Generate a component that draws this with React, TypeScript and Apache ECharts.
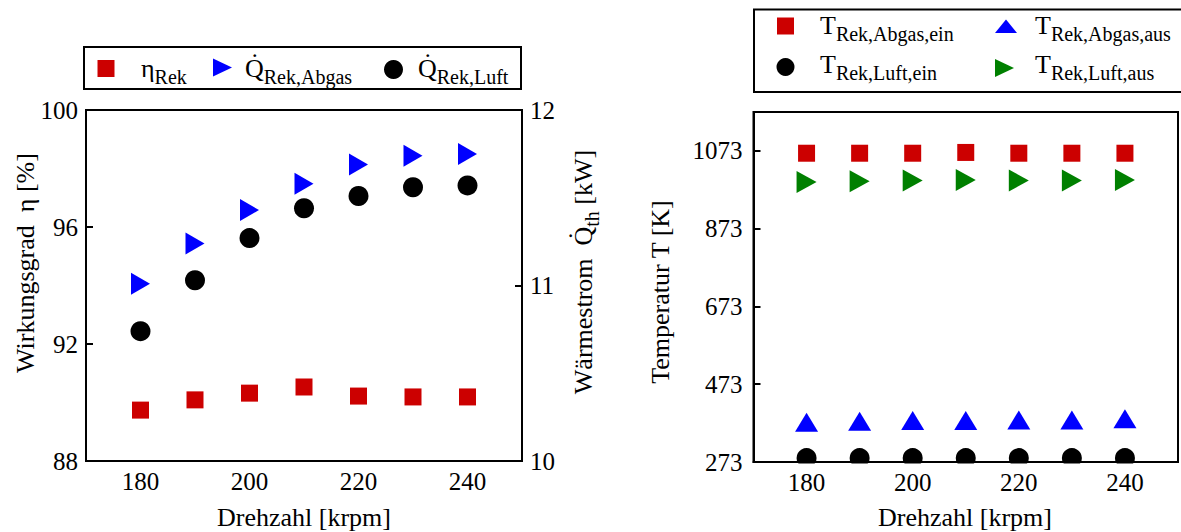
import React, { useEffect, useRef } from 'react';
import * as echarts from 'echarts';

// ---- data ----
const speeds = [180, 190, 200, 210, 220, 230, 240];
const etaRek = [89.74, 90.09, 90.32, 90.53, 90.22, 90.19, 90.19];
const qRekAbgas = [11.01, 11.24, 11.43, 11.58, 11.69, 11.74, 11.75];
const qRekLuft = [10.74, 11.03, 11.27, 11.44, 11.51, 11.56, 11.57];
const tAbgasEin = [1067, 1067, 1067, 1069, 1067, 1067, 1067];
const tAbgasAus = [375, 378, 380, 380, 381, 381, 384];
const tLuftEin = [283, 283, 283, 283, 283, 283, 283];
const tLuftAus = [993, 995, 997, 998, 997, 997, 998];
const xTickLabels = [180, 200, 220, 240];
const tempTickLabels = [273, 473, 673, 873, 1073];

const FONT = "'Times New Roman', 'Liberation Serif', serif";
const RED = '#CC0000';
const BLUE = '#0000FF';
const GREEN = '#008000';
const BLACK = '#000000';
const RIGHT_TRI = 'path://M0,0L1,0.5L0,1Z';

const pts = (ys: number[]) => speeds.map((s, i) => [s, ys[i]]);

const richStyles = {
  m: { fontSize: 26, fontFamily: FONT, lineHeight: 30, color: '#000' },
  s: { fontSize: 20, fontFamily: FONT, lineHeight: 20, padding: [17, 0, 0, 0], color: '#000' },
};

const richText = (x: number, y: number, text: string, extra: any = {}) => ({
  type: 'text',
  x,
  y,
  ...extra,
  style: {
    text,
    align: extra.align || 'left',
    verticalAlign: 'middle',
    textAlign: extra.align || 'left',
    textVerticalAlign: 'middle',
    rich: richStyles,
  },
});

const plainText = (x: number, y: number, text: string, rotation = 0) => ({
  type: 'text',
  x,
  y,
  rotation,
  style: {
    text,
    font: `26px ${FONT}`,
    fill: '#000',
    align: 'center',
    verticalAlign: 'middle',
    textAlign: 'center',
    textVerticalAlign: 'middle',
  },
});

const axisLine = { show: true, lineStyle: { color: '#000', width: 2 } };
const tickLabel = { color: '#000', fontSize: 25, fontFamily: FONT };
const inTick = { show: true, inside: true, length: 7, lineStyle: { color: '#000', width: 2 } };

export default function App() {
  const ref = useRef<HTMLDivElement>(null);
  useEffect(() => {
    if (!ref.current) return;
    const chart = echarts.init(ref.current, undefined, { renderer: 'svg' });
    const sc = (name: string, xi: number, yi: number, ys: number[], symbol: string, size: any, color: string) => ({
      name, type: 'scatter', xAxisIndex: xi, yAxisIndex: yi, data: pts(ys), symbol, symbolSize: size,
      itemStyle: { color, opacity: 1 }, emphasis: { disabled: true },
    });
    const option: any = {
      animation: false,
      backgroundColor: '#fff',
      grid: [
        { left: 86, top: 110, width: 436, height: 351, show: true, borderColor: '#000', borderWidth: 2, backgroundColor: 'transparent' },
        { left: 753.5, top: 112, width: 436, height: 350, show: true, borderColor: '#000', borderWidth: 2, backgroundColor: 'transparent' },
      ],
      xAxis: [
        {
          gridIndex: 0, type: 'value', min: 170, max: 250, interval: 10,
          axisLine, axisTick: { show: false }, splitLine: { show: false },
          axisLabel: { ...tickLabel, margin: 8, formatter: (v: number) => (xTickLabels.includes(v) ? String(v) : '') },
        },
        {
          gridIndex: 1, type: 'value', min: 170, max: 250, interval: 10, z: 10,
          axisLine, axisTick: { show: false }, splitLine: { show: false },
          axisLabel: { ...tickLabel, margin: 8, formatter: (v: number) => (xTickLabels.includes(v) ? String(v) : '') },
        },
      ],
      yAxis: [
        {
          gridIndex: 0, type: 'value', min: 88, max: 100, interval: 4,
          axisLine, axisTick: inTick, splitLine: { show: false }, axisLabel: { ...tickLabel, margin: 8 },
        },
        {
          gridIndex: 0, type: 'value', position: 'right', min: 10, max: 12, interval: 1,
          axisLine, axisTick: inTick, splitLine: { show: false }, axisLabel: { ...tickLabel, margin: 8 },
        },
        {
          gridIndex: 1, type: 'value', min: 273, max: 1173, interval: 200,
          axisLine, axisTick: inTick, splitLine: { show: false },
          axisLabel: { ...tickLabel, margin: 11, formatter: (v: number) => (tempTickLabels.includes(v) ? String(v) : '') },
        },
      ],
      series: [
        sc('eta', 0, 0, etaRek, 'rect', 17, RED),
        sc('qAbgas', 0, 1, qRekAbgas, RIGHT_TRI, [19, 22], BLUE),
        sc('qLuft', 0, 1, qRekLuft, 'circle', 20, BLACK),
        sc('tAbgasEin', 1, 2, tAbgasEin, 'rect', 17, RED),
        sc('tAbgasAus', 1, 2, tAbgasAus, 'triangle', [23, 19], BLUE),
        sc('tLuftEin', 1, 2, tLuftEin, 'circle', 20, BLACK),
        sc('tLuftAus', 1, 2, tLuftAus, RIGHT_TRI, [20, 22], GREEN),
      ],
      graphic: [
        // clip marks below the right chart's x axis
        { type: 'rect', z: 5, shape: { x: 754, y: 463.5, width: 430, height: 8 }, style: { fill: '#fff' } },
        // left legend
        { type: 'rect', shape: { x: 84, y: 47, width: 437, height: 42 }, style: { fill: 'none', stroke: '#000', lineWidth: 2 } },
        { type: 'rect', shape: { x: 97.5, y: 60, width: 17, height: 17 }, style: { fill: RED } },
        richText(141, 68, '{m|η}{s|Rek}'),
        { type: 'polygon', shape: { points: [[213, 58.5], [232, 67.5], [213, 76.5]] }, style: { fill: BLUE } },
        richText(245, 68, '{m|Q\u0307}{s|Rek,Abgas}'),
        { type: 'circle', shape: { cx: 393.5, cy: 69.5, r: 9.5 }, style: { fill: BLACK } },
        richText(418, 68, '{m|Q\u0307}{s|Rek,Luft}'),
        // right legend
        { type: 'rect', shape: { x: 754, y: 9.5, width: 440, height: 82.5 }, style: { fill: 'none', stroke: '#000', lineWidth: 2 } },
        { type: 'rect', shape: { x: 777, y: 17.5, width: 17, height: 17 }, style: { fill: RED } },
        richText(820, 25, '{m|T}{s|Rek,Abgas,ein}'),
        { type: 'polygon', shape: { points: [[995, 33], [1006, 19.5], [1017, 33]] }, style: { fill: BLUE } },
        richText(1035, 25, '{m|T}{s|Rek,Abgas,aus}'),
        { type: 'circle', shape: { cx: 785.5, cy: 67, r: 9 }, style: { fill: BLACK } },
        richText(820, 64, '{m|T}{s|Rek,Luft,ein}'),
        { type: 'polygon', shape: { points: [[995, 59], [1014, 68], [995, 77]] }, style: { fill: GREEN } },
        richText(1035, 64, '{m|T}{s|Rek,Luft,aus}'),
        // axis names
        plainText(304, 517, 'Drehzahl [krpm]'),
        plainText(965, 517, 'Drehzahl [krpm]'),
        plainText(25, 263, 'Wirkungsgrad  η [%]', Math.PI / 2),
        richText(583, 272, '{m|Wärmestrom  Q\u0307}{s|th}{m| [kW]}', { rotation: Math.PI / 2, align: 'center' }),
        plainText(660, 292, 'Temperatur T [K]', Math.PI / 2),
      ],
    };
    chart.setOption(option);
    return () => chart.dispose();
  }, []);
  return <div ref={ref} style={{ position: 'fixed', left: 0, top: 0, width: 1181, height: 532 }} />;
}
